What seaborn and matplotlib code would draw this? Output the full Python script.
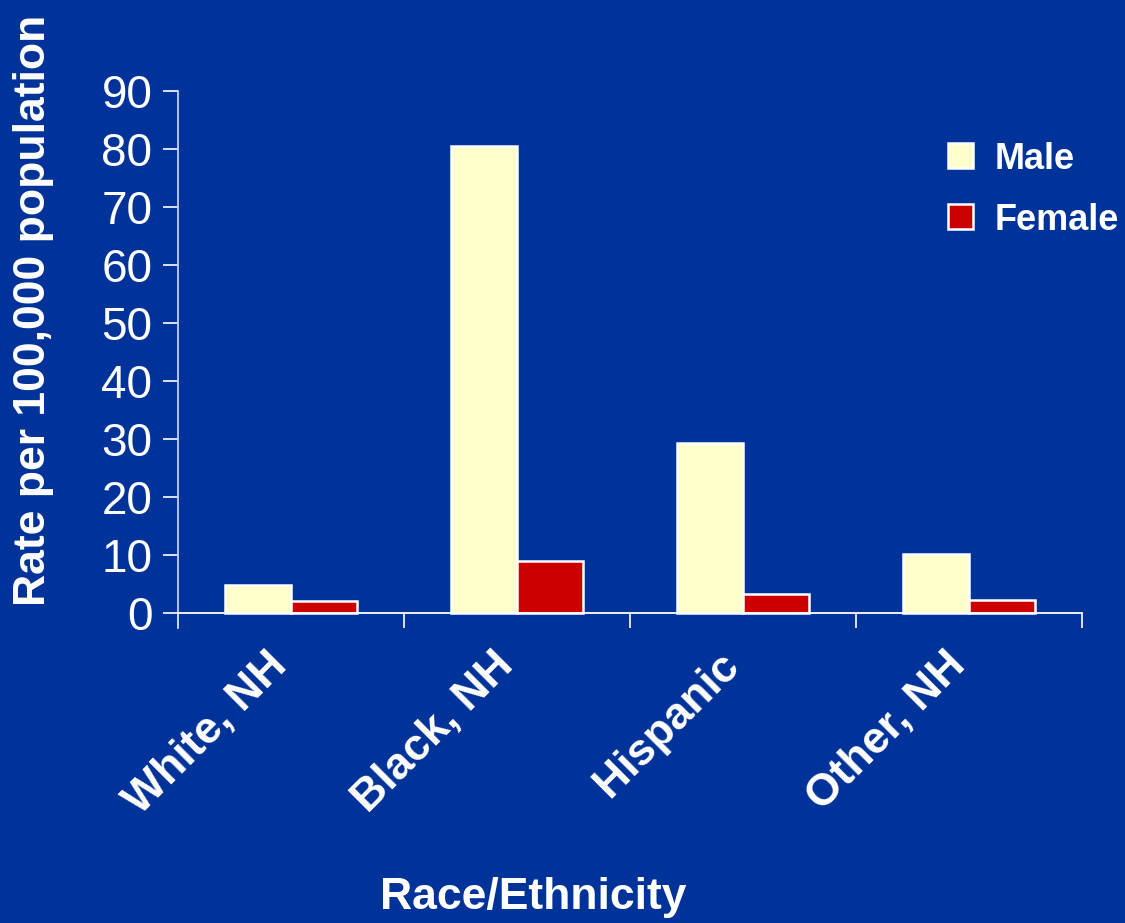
import matplotlib
matplotlib.use("Agg")
import matplotlib.pyplot as plt
from matplotlib.patches import Patch
from matplotlib.transforms import ScaledTranslation
import seaborn as sns
import pandas as pd

# Rates per 100,000 population by race/ethnicity and sex
categories = ["White, NH", "Black, NH", "Hispanic", "Other, NH"]
male_rates = [4.8, 80.5, 29.3, 10.2]
female_rates = [2.1, 9.0, 3.3, 2.2]
series = ["Male", "Female"]
y_ticks = [0, 10, 20, 30, 40, 50, 60, 70, 80, 90]

BG = "#003399"
MALE_C = "#FFFFCC"
FEMALE_C = "#CC0000"

df = pd.DataFrame({
    "group": categories * 2,
    "sex": [series[0]] * len(categories) + [series[1]] * len(categories),
    "rate": male_rates + female_rates,
})

sns.set_style("white")
plt.rcParams["font.family"] = ["Liberation Sans", "DejaVu Sans"]

fig = plt.figure(figsize=(11.25, 9.23), dpi=100, facecolor=BG)
ax = fig.add_axes([0.1582, 0.3196, 0.8036, 0.5818])
ax.set_facecolor(BG)

sns.barplot(data=df, x="group", y="rate", hue="sex", order=categories,
            hue_order=series, palette=[MALE_C, FEMALE_C], width=0.58,
            gap=0, edgecolor="white", linewidth=1.8, ax=ax, legend=False,
            errorbar=None, saturation=1)

ax.set_xlim(-0.5, len(categories) - 0.5)
ax.set_ylim(-2.6, 90)
ax.set_yticks(y_ticks)
ax.set_xlabel("")
ax.set_ylabel("")

for side in ("top", "right"):
    ax.spines[side].set_visible(False)
ax.spines["bottom"].set_position(("data", 0))
ax.spines["bottom"].set_color("white")
ax.spines["bottom"].set_linewidth(1.3)
ax.spines["left"].set_color("#C8D0EC")
ax.spines["left"].set_linewidth(1.3)

ax.tick_params(axis="y", direction="out", length=11, width=1.2, color="white",
               labelcolor="white", labelsize=33, pad=7.5, left=True)
ax.tick_params(axis="x", which="major", length=0, labelcolor="white", pad=26)
ax.set_xticks([i - 0.5 for i in range(len(categories) + 1)], minor=True)
ax.tick_params(axis="x", which="minor", direction="out", length=11, width=1.2,
               color="white", bottom=True)

# rotated category labels, nudged down-left along their baseline
shift = ScaledTranslation(-10 / 100, -10 / 100, fig.dpi_scale_trans)
for lab in ax.get_xticklabels():
    lab.set_rotation(45)
    lab.set_ha("right")
    lab.set_va("center")
    lab.set_rotation_mode("anchor")
    lab.set_fontsize(32)
    lab.set_fontweight("bold")
    lab.set_transform(lab.get_transform() + shift)

fig.text(0.0295, 0.664, "Rate per 100,000 population", rotation=90,
         ha="center", va="center", color="white", fontsize=32,
         fontweight="bold")
fig.text(0.474, 0.028, "Race/Ethnicity", ha="center", va="center",
         color="white", fontsize=32, fontweight="bold")

handles = [Patch(facecolor=MALE_C, edgecolor="white", linewidth=1.8),
           Patch(facecolor=FEMALE_C, edgecolor="white", linewidth=1.8)]
leg = fig.legend(handles, series, loc="upper left",
                 bbox_to_anchor=(0.8204, 0.874), frameon=False,
                 handlelength=0.69, handleheight=0.69, handletextpad=0.6,
                 labelspacing=0.72, borderpad=0.2,
                 prop={"size": 26, "weight": "bold"})
for t in leg.get_texts():
    t.set_color("white")

fig.savefig("out.png", dpi=100, facecolor=BG)
